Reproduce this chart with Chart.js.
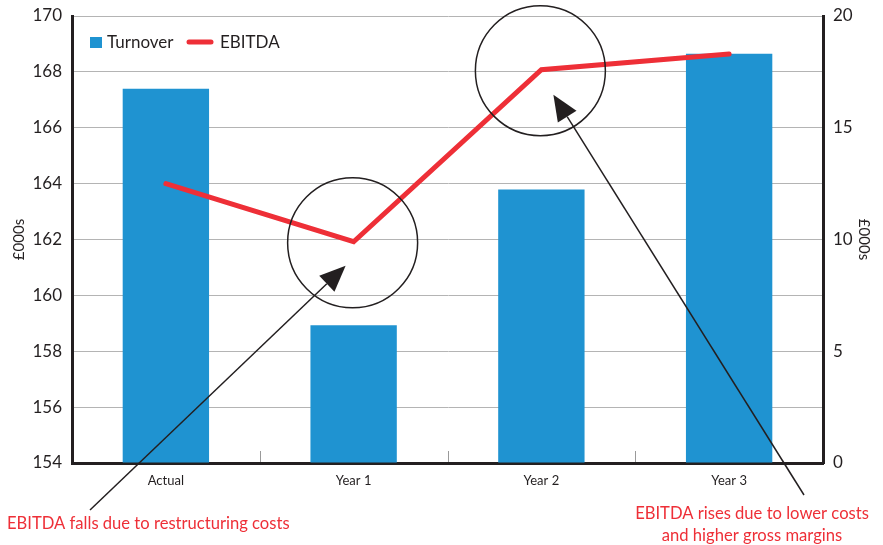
<!DOCTYPE html>
<html>
<head>
<meta charset="utf-8">
<script src="https://cdn.jsdelivr.net/npm/chart.js@4/dist/chart.umd.min.js"></script>
<style>
  body { margin: 0; background: #fff; }
  #wrap { width: 883px; height: 545px; position: relative; }
</style>
</head>
<body>
<div id="wrap"><canvas id="ebitdaChart"></canvas></div>
<script>
// chart data
const categories = ['Actual', 'Year 1', 'Year 2', 'Year 3'];
const turnover = [167.4, 158.93, 163.79, 168.65];   // £000s, left axis
const ebitda = [12.5, 9.9, 17.6, 18.3];             // £000s, right axis
const leftTicks = [154, 170, 2];                    // min, max, step
const rightTicks = [0, 20, 5];

const ink = '#231f20';
const blue = '#1f93d1';
const red = '#ee2f37';
const font = 'Lato, "Open Sans", sans-serif';

function arrow(ctx, x1, y1, x2, y2) {
  const a = Math.atan2(y2 - y1, x2 - x1);
  const len = 26, half = 11;
  const bx = x2 - len * Math.cos(a), by = y2 - len * Math.sin(a);
  ctx.beginPath();
  ctx.moveTo(x1, y1);
  ctx.lineTo(bx, by);
  ctx.stroke();
  ctx.beginPath();
  ctx.moveTo(x2, y2);
  ctx.lineTo(bx + half * Math.sin(a), by - half * Math.cos(a));
  ctx.lineTo(bx - half * Math.sin(a), by + half * Math.cos(a));
  ctx.closePath();
  ctx.fill();
}

// circles, arrows, notes, legend and the little inner ticks
const notes = {
  id: 'notes',
  afterDraw(chart) {
    const ctx = chart.ctx;
    const area = chart.chartArea;
    const x = chart.scales.x, y1 = chart.scales.y1;
    ctx.save();

    // inner category ticks
    ctx.strokeStyle = '#9a9a9a';
    ctx.lineWidth = 1;
    const step = (area.right - area.left) / categories.length;
    for (let i = 1; i < categories.length; i++) {
      const px = Math.round(area.left + step * i) + 0.5;
      ctx.beginPath();
      ctx.moveTo(px, area.bottom - 1);
      ctx.lineTo(px, area.bottom - 12);
      ctx.stroke();
    }

    // circles round EBITDA points
    const p1 = { x: x.getPixelForValue(1), y: y1.getPixelForValue(ebitda[1]) };
    const p2 = { x: x.getPixelForValue(2), y: y1.getPixelForValue(ebitda[2]) };
    ctx.strokeStyle = ink;
    ctx.fillStyle = ink;
    ctx.lineWidth = 1.5;
    [p1, p2].forEach(p => {
      ctx.beginPath();
      ctx.arc(p.x - 1, p.y + 1, 65, 0, Math.PI * 2);
      ctx.stroke();
    });

    // arrows
    arrow(ctx, 90, 510, p1.x - 8, p1.y + 24);
    arrow(ctx, 804, 495, p2.x + 12, p2.y + 25);

    // notes
    ctx.fillStyle = red;
    ctx.font = '16.6px ' + font;
    ctx.textBaseline = 'middle';
    ctx.textAlign = 'left';
    ctx.fillText('EBITDA falls due to restructuring costs', 7, 524);
    ctx.textAlign = 'center';
    ctx.fillText('EBITDA rises due to lower costs', 752, 514);
    ctx.fillText('and higher gross margins', 752, 536);

    // legend
    ctx.fillStyle = blue;
    ctx.fillRect(90, 37, 12, 11);
    ctx.fillStyle = ink;
    ctx.textAlign = 'left';
    ctx.font = '17px ' + font;
    ctx.fillText('Turnover', 107, 43);
    ctx.strokeStyle = red;
    ctx.lineWidth = 5;
    ctx.lineCap = 'round';
    ctx.beginPath();
    ctx.moveTo(189, 42);
    ctx.lineTo(211, 42);
    ctx.stroke();
    ctx.fillText('EBITDA', 220, 43);

    ctx.restore();
  }
};

// fixed axis box sizes so the plot area lands where the original has it
function fixY(width) {
  return s => { s.width = width; s.paddingTop = 0; s.paddingBottom = 0; };
}

document.addEventListener("DOMContentLoaded", function () {
  const ctx = document.getElementById('ebitdaChart').getContext('2d');
  new Chart(ctx, {
    data: {
      labels: categories,
      datasets: [{
        type: 'line',
        label: 'EBITDA',
        data: ebitda,
        yAxisID: 'y1',
        borderColor: red,
        borderWidth: 5,
        pointRadius: 0,
        tension: 0,
        borderCapStyle: 'round',
        order: 1
      }, {
        type: 'bar',
        label: 'Turnover',
        data: turnover,
        yAxisID: 'y',
        backgroundColor: blue,
        barPercentage: 0.46,
        categoryPercentage: 1,
        base: leftTicks[0],
        order: 2
      }]
    },
    options: {
      responsive: true,
      maintainAspectRatio: false,
      animation: false,
      layout: { padding: { top: 16, left: 0, right: 0, bottom: 0 } },
      plugins: {
        legend: { display: false },
        tooltip: { enabled: false }
      },
      scales: {
        x: {
          offset: true,
          grid: { display: false },
          border: { color: ink, width: 3 },
          ticks: { color: ink, font: { family: font, size: 13 }, padding: 2 },
          afterFit: s => { s.height = 82; }
        },
        y: {
          position: 'left',
          min: leftTicks[0],
          max: leftTicks[1],
          ticks: { stepSize: leftTicks[2], color: ink, font: { family: font, size: 17 }, padding: 10 },
          grid: { color: '#b4b4b4', lineWidth: 1, drawTicks: false },
          border: { color: ink, width: 3 },
          title: { display: true, text: '£000s', color: ink, font: { family: font, size: 15 }, padding: { top: 10, bottom: 0 } },
          afterFit: fixY(72)
        },
        y1: {
          position: 'right',
          min: rightTicks[0],
          max: rightTicks[1],
          ticks: { stepSize: rightTicks[2], color: ink, font: { family: font, size: 17 }, padding: 10 },
          grid: { drawOnChartArea: false, drawTicks: false },
          border: { color: ink, width: 3 },
          title: { display: true, text: '£000s', color: ink, font: { family: font, size: 15 }, padding: { top: 10, bottom: 0 } },
          afterFit: fixY(60)
        }
      }
    },
    plugins: [notes]
  });
});
</script>
</body>
</html>
